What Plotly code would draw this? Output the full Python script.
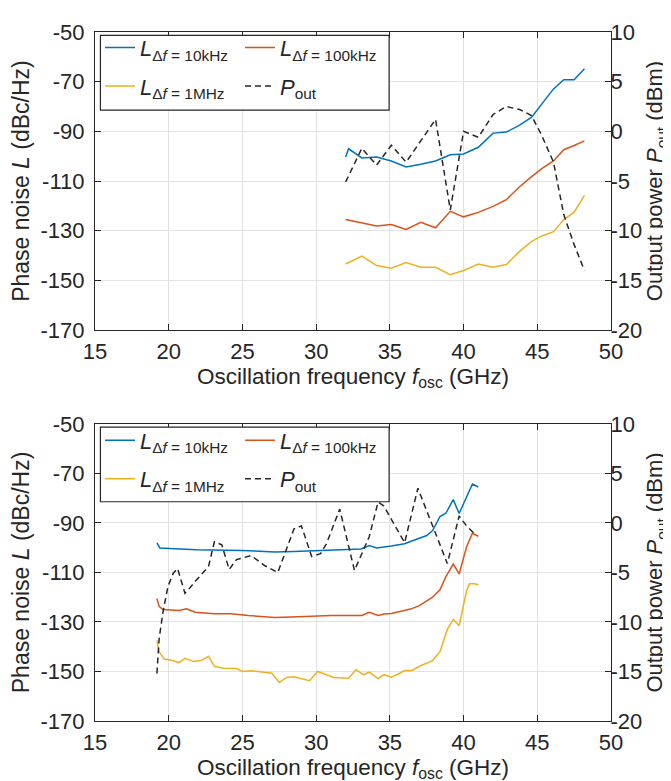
import plotly.graph_objects as go

# ---------------- data ----------------
# Top panel
freq_top_10k = [32.0, 32.2, 33.1, 34.1, 35.1, 36.1, 37.1, 38.1, 39.1, 40.0, 41.0,
                42.0, 42.9, 43.8, 44.6, 45.3, 46.1, 46.8, 47.5, 48.2]
L10k_top = [-100.3, -97.0, -100.7, -100.3, -101.9, -104.3, -103.2, -101.9, -99.4, -99.1,
            -96.4, -90.7, -90.3, -87.5, -84.4, -79.1, -72.9, -69.2, -69.2, -64.8]
freq_top = [32.0, 33.1, 34.1, 35.1, 36.1, 37.1, 38.1, 39.1, 40.0, 41.0,
            42.0, 42.9, 43.8, 44.6, 45.3, 46.1, 46.8, 47.5, 48.2]
L100k_top = [-125.5, -126.8, -128.1, -127.5, -129.5, -126.6, -128.8, -122.2, -124.4, -122.6,
             -120.2, -117.5, -112.3, -108.3, -105.0, -101.9, -97.4, -95.7, -93.8]
L1M_top = [-143.4, -140.2, -144.0, -145.1, -142.8, -144.7, -144.7, -147.7, -146.0, -143.4,
           -144.7, -143.6, -138.3, -134.4, -132.1, -130.4, -125.5, -122.5, -115.8]
Pout_top = [-5.1, -1.7, -3.4, -1.4, -3.1, -0.9, 1.2, -7.9, 0.0, -0.6,
            1.7, 2.5, 2.2, 1.6, -0.4, -3.1, -8.4, -11.4, -14.0]

# Bottom panel
freq_bot_10k = [19.2, 19.4, 20.4, 21.9, 25.0, 27.2, 28.5, 30.0, 30.8, 31.7, 33.05, 33.6, 34.1,
                35.1, 36.0, 36.9, 37.5, 37.9, 38.4, 38.8, 39.3, 39.7, 40.2, 40.6, 41.0]
L10k_bot = [-98.1, -100.1, -100.4, -100.8, -101.1, -101.7, -101.5, -101.1, -101.1, -100.7, -100.5,
            -99.1, -100.1, -99.3, -98.4, -96.4, -95.1, -93.1, -87.4, -86.1, -80.6, -86.2,
            -79.2, -74.3, -75.5]
freq_bot_100k = [19.2, 19.35, 19.6, 20.4, 20.7, 21.2, 21.8, 23.1, 24.2, 25.4, 27.2, 28.8, 31.0,
                 33.1, 33.6, 34.2, 34.6, 35.1, 35.7, 36.4, 37.0, 37.9, 38.4, 38.8, 39.3, 39.7,
                 40.2, 40.6, 41.0]
L100k_bot = [-120.5, -123.7, -125.0, -125.3, -125.4, -124.7, -126.1, -126.7, -126.7, -127.4,
             -128.2, -127.9, -127.4, -127.4, -126.1, -127.4, -126.8, -126.6, -125.8, -124.8,
             -123.4, -120.0, -117.0, -111.7, -106.6, -110.6, -99.7, -94.2, -95.4]
freq_bot_1M = [19.2, 19.35, 19.7, 20.2, 20.7, 21.1, 21.7, 22.2, 22.7, 23.1, 23.7, 24.6, 25.0,
               25.6, 27.0, 27.5, 28.0, 28.5, 29.55, 30.1, 31.2, 32.2, 32.7, 33.2, 33.6, 34.2,
               34.6, 35.1, 35.6, 36.0, 36.5, 37.0, 37.9, 38.4, 38.9, 39.3, 39.7, 40.2, 40.4,
               40.75, 41.0]
L1M_bot = [-137.4, -142.0, -145.0, -145.5, -146.4, -144.7, -146.0, -145.6, -143.9, -147.9,
           -148.7, -148.8, -150.0, -149.7, -150.7, -154.4, -152.4, -152.1, -153.7, -150.0,
           -152.4, -152.7, -149.3, -151.3, -150.3, -152.9, -151.3, -152.3, -150.9, -149.6,
           -149.6, -147.9, -145.6, -142.0, -133.0, -129.0, -131.5, -117.5, -114.6, -114.6,
           -115.0]
freq_bot_P = [19.2, 19.35, 19.6, 19.95, 20.3, 20.6, 21.1, 21.3, 21.8, 22.7, 23.1, 23.6, 24.1,
              24.6, 25.6, 26.5, 27.4, 28.5, 29.0, 29.7, 30.3, 30.7, 31.6, 32.6, 33.6, 34.2,
              34.6, 36.0, 36.9, 37.9, 38.9, 39.7, 40.2, 40.75]
Pout_bot = [-15.2, -11.7, -9.1, -6.4, -5.1, -4.6, -7.1, -6.8, -5.9, -4.4, -1.9, -2.2, -4.7,
            -3.7, -3.3, -4.3, -5.0, -0.6, -0.3, -3.4, -3.1, -2.1, 1.4, -4.8, -1.4, 2.1,
            1.7, -2.0, 3.5, -0.4, -4.1, 0.7, -0.3, -1.1]

# tick labels
x_ticks = [15, 20, 25, 30, 35, 40, 45, 50]
L_ticks = [-170, -150, -130, -110, -90, -70, -50]
L_ticktext = ["-170", "-150", "-130", "-110", "-90", "-70", "-50"]
P_ticks = [-20, -15, -10, -5, 0, 5, 10]
P_ticktext = ["-20", "-15", "-10", "-5", "0", "5", "10"]

names = ["<i>L</i><sub>Δ<i>f</i> = 10kHz</sub>",
         "<i>L</i><sub>Δ<i>f</i> = 100kHz</sub>",
         "<i>L</i><sub>Δ<i>f</i> = 1MHz</sub>",
         "<i>P</i><sub>out</sub>"]
colors = ["#0072BD", "#D95319", "#EDB120", "#262626"]

# ---------------- figure ----------------
W, H = 671, 781
ml, mr, mt, mb = 87, 68, 15, 68
ph = H - mt - mb
top_lo = (H - mb - 317) / ph
bot_hi = (H - mb - 412) / ph

FONT = "Liberation Sans, Arial, Helvetica, sans-serif"
TXT = "#262626"

fig = go.Figure()

LW = 1.5
fig.add_trace(go.Scatter(x=freq_top_10k, y=L10k_top, mode="lines", name=names[0],
                         line=dict(color=colors[0], width=LW), xaxis="x", yaxis="y", legend="legend"))
fig.add_trace(go.Scatter(x=freq_top, y=L100k_top, mode="lines", name=names[1],
                         line=dict(color=colors[1], width=LW), xaxis="x", yaxis="y", legend="legend2"))
fig.add_trace(go.Scatter(x=freq_top, y=L1M_top, mode="lines", name=names[2],
                         line=dict(color=colors[2], width=LW), xaxis="x", yaxis="y", legend="legend3"))
fig.add_trace(go.Scatter(x=freq_top, y=Pout_top, mode="lines", name=names[3],
                         line=dict(color=colors[3], width=LW, dash="6px,4px"), xaxis="x", yaxis="y2",
                         legend="legend4"))

fig.add_trace(go.Scatter(x=freq_bot_10k, y=L10k_bot, mode="lines", name=names[0],
                         line=dict(color=colors[0], width=LW), xaxis="x2", yaxis="y3", legend="legend5"))
fig.add_trace(go.Scatter(x=freq_bot_100k, y=L100k_bot, mode="lines", name=names[1],
                         line=dict(color=colors[1], width=LW), xaxis="x2", yaxis="y3", legend="legend6"))
fig.add_trace(go.Scatter(x=freq_bot_1M, y=L1M_bot, mode="lines", name=names[2],
                         line=dict(color=colors[2], width=LW), xaxis="x2", yaxis="y3", legend="legend7"))
fig.add_trace(go.Scatter(x=freq_bot_P, y=Pout_bot, mode="lines", name=names[3],
                         line=dict(color=colors[3], width=LW, dash="6px,4px"), xaxis="x2", yaxis="y4",
                         legend="legend8"))

axis_common = dict(showline=True, linecolor=TXT, linewidth=1.2, ticks="inside", ticklen=6,
                   tickwidth=1.2, tickcolor=TXT, zeroline=False,
                   tickfont=dict(size=22, color=TXT, family=FONT))

xtitle = dict(text="Oscillation frequency <i>f</i><sub>osc</sub> (GHz)",
              font=dict(size=22.5, color=TXT, family=FONT), standoff=0)
ltitle = dict(text="Phase noise <i>L</i> (dBc/Hz)", font=dict(size=23, color=TXT, family=FONT), standoff=4)
rtitle = dict(text="Output power <i>P</i><sub>out</sub> (dBm)", font=dict(size=22, color=TXT, family=FONT),
              standoff=0)

def xax(anchor, domain_y):
    return dict(axis_common, range=[15, 50], tickvals=x_ticks, showgrid=True, gridcolor="#e2e2e2",
                gridwidth=1, mirror="ticks", anchor=anchor, domain=[0, 1], title=xtitle,
                ticklabelstandoff=1)

def lax(domain):
    return dict(axis_common, range=[-170, -50], tickvals=L_ticks, ticktext=L_ticktext, showgrid=True,
                gridcolor="#e2e2e2", gridwidth=1, domain=domain, title=ltitle, ticklabelstandoff=5)

def pax(overlay, domain):
    return dict(axis_common, range=[-20, 10], tickvals=P_ticks, ticktext=P_ticktext, showgrid=False,
                overlaying=overlay, side="right", title=rtitle, ticklabelstandoff=-6)

layout = dict(
    width=W, height=H,
    margin=dict(l=ml, r=mr, t=mt, b=mb, pad=0),
    paper_bgcolor="white", plot_bgcolor="white",
    font=dict(family=FONT, color=TXT),
    showlegend=True,
    xaxis=xax("y", [top_lo, 1]),
    yaxis=lax([top_lo, 1]),
    yaxis2=pax("y", [top_lo, 1]),
    xaxis2=xax("y3", [0, bot_hi]),
    yaxis3=lax([0, bot_hi]),
    yaxis4=pax("y3", [0, bot_hi]),
)
layout["yaxis2"]["anchor"] = "x"
layout["yaxis4"]["anchor"] = "x2"
layout["yaxis3"]["anchor"] = "x2"
layout["yaxis"]["anchor"] = "x"

# legends: one per entry, two columns inside a framed box
def ppx(px):
    return (px - ml) / (W - ml - mr)

def ppy(py):
    return (H - mb - py) / ph

col_x = [ppx(92), ppx(232)]
row_y_top = [ppy(31), ppy(70)]
row_y_bot = [ppy(31 + 397.7), ppy(70 + 397.7)]
slots = [(0, 0), (1, 0), (0, 1), (1, 1)]  # (col,row) for 10k,100k,1M,Pout
for i in range(8):
    key = "legend" if i == 0 else "legend%d" % (i + 1)
    c, r = slots[i % 4]
    ys = row_y_top if i < 4 else row_y_bot
    layout[key] = dict(x=col_x[c], y=ys[r], xanchor="left", yanchor="middle",
                       bgcolor="rgba(0,0,0,0)", borderwidth=0, visible=True,
                       font=dict(size=22, color=TXT, family=FONT), itemwidth=30)

fig.update_layout(**layout)

# legend frames
for yref, xref in [("y domain", "x domain"), ("y3 domain", "x2 domain")]:
    fig.add_shape(type="rect", xref=xref, yref=yref, x0=0.0105, x1=0.57, y0=0.738, y1=0.989,
                  line=dict(color=TXT, width=1.2), fillcolor="white", layer="above")

fig.write_html("out.html")
